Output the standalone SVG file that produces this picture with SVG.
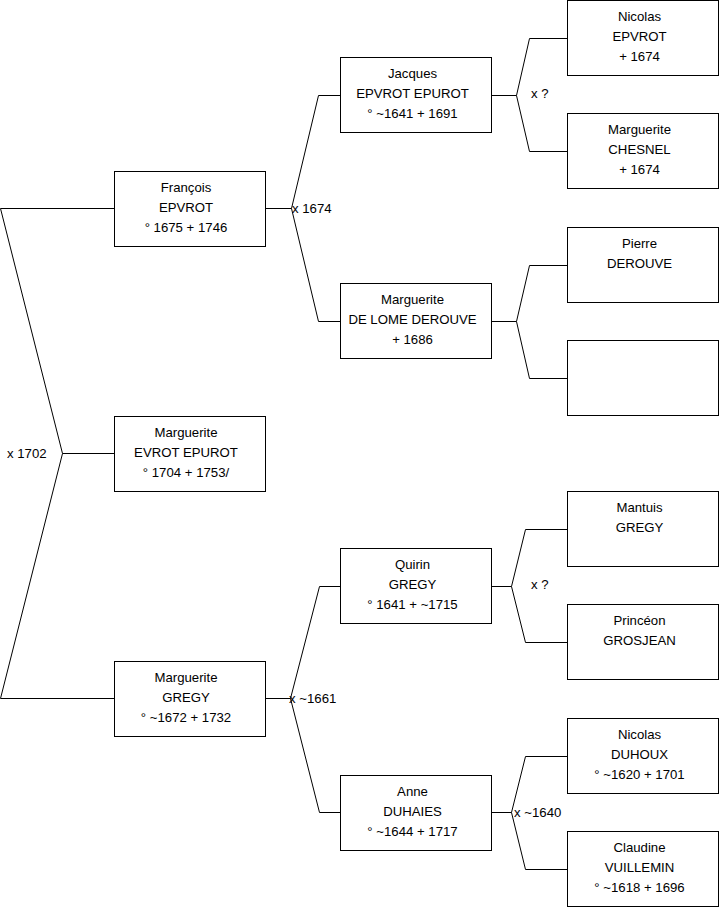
<svg xmlns="http://www.w3.org/2000/svg" width="719" height="908" viewBox="0 0 719 908">
<style>
.box{fill:#fff;stroke:#000;stroke-width:1}
.ln{fill:none;stroke:#000;stroke-width:1}
text{font-family:"Liberation Sans",Arial,sans-serif;font-size:13.2px;fill:#000}
.c{text-anchor:middle}
</style>
<rect width="719" height="908" fill="#fff"/>
<g id="connectors">
<polyline class="ln" points="114.5,208.5 0.5,208.5 62.5,453.5 0.5,698.5 114.5,698.5"/>
<line class="ln" x1="62.5" y1="453.5" x2="114.5" y2="453.5"/>
<polyline class="ln" points="340.5,95.5 318.5,95.5 291.5,208.5 318.5,321.5 340.5,321.5"/>
<line class="ln" x1="265.5" y1="208.5" x2="291.5" y2="208.5"/>
<polyline class="ln" points="567.5,38.5 529.5,38.5 516.5,95.5 529.5,151.5 567.5,151.5"/>
<line class="ln" x1="491.5" y1="95.5" x2="516.5" y2="95.5"/>
<polyline class="ln" points="567.5,265.5 529.5,265.5 516.5,321.5 529.5,378.5 567.5,378.5"/>
<line class="ln" x1="491.5" y1="321.5" x2="516.5" y2="321.5"/>
<polyline class="ln" points="340.5,586.5 319.5,586.5 290.5,698.5 319.5,812.5 340.5,812.5"/>
<line class="ln" x1="265.5" y1="698.5" x2="290.5" y2="698.5"/>
<polyline class="ln" points="567.5,529.5 525.5,529.5 511.5,586.5 525.5,642.5 567.5,642.5"/>
<line class="ln" x1="491.5" y1="586.5" x2="511.5" y2="586.5"/>
<polyline class="ln" points="567.5,756.5 525.5,756.5 511.5,812.5 525.5,869.5 567.5,869.5"/>
<line class="ln" x1="491.5" y1="812.5" x2="511.5" y2="812.5"/>
<text x="7" y="458">x 1702</text>
<text x="292" y="213">x 1674</text>
<text x="531" y="98">x ?</text>
<text x="289" y="703">x ~1661</text>
<text x="531" y="589">x ?</text>
<text x="514" y="817">x ~1640</text>
</g>
<g id="francois"><rect class="box" x="114.5" y="171.5" width="151" height="75"/>
<text class="c" x="186" y="192">François</text><text class="c" x="186" y="212">EPVROT</text><text class="c" x="186" y="232">° 1675 + 1746</text></g>
<g id="marguerite"><rect class="box" x="114.5" y="416.5" width="151" height="75"/>
<text class="c" x="186" y="437">Marguerite</text><text class="c" x="186" y="457">EVROT EPUROT</text><text class="c" x="186" y="477">° 1704 + 1753/</text></g>
<g id="marguerite-gregy"><rect class="box" x="114.5" y="661.5" width="151" height="75"/>
<text class="c" x="186" y="682">Marguerite</text><text class="c" x="186" y="702">GREGY</text><text class="c" x="186" y="722">° ~1672 + 1732</text></g>
<g id="jacques"><rect class="box" x="340.5" y="57.5" width="151" height="75"/>
<text class="c" x="412.5" y="78">Jacques</text><text class="c" x="412.5" y="98">EPVROT EPUROT</text><text class="c" x="412.5" y="118">° ~1641 + 1691</text></g>
<g id="marguerite-delome"><rect class="box" x="340.5" y="283.5" width="151" height="75"/>
<text class="c" x="412.5" y="304">Marguerite</text><text class="c" x="412.5" y="324">DE LOME DEROUVE</text><text class="c" x="412.5" y="344">+ 1686</text></g>
<g id="quirin"><rect class="box" x="340.5" y="548.5" width="151" height="75"/>
<text class="c" x="412.5" y="569">Quirin</text><text class="c" x="412.5" y="589">GREGY</text><text class="c" x="412.5" y="609">° 1641 + ~1715</text></g>
<g id="anne"><rect class="box" x="340.5" y="775.5" width="151" height="75"/>
<text class="c" x="412.5" y="796">Anne</text><text class="c" x="412.5" y="816">DUHAIES</text><text class="c" x="412.5" y="836">° ~1644 + 1717</text></g>
<g id="nicolas-epvrot"><rect class="box" x="567.5" y="0.5" width="151" height="75"/>
<text class="c" x="639.5" y="21">Nicolas</text><text class="c" x="639.5" y="41">EPVROT</text><text class="c" x="639.5" y="61">+ 1674</text></g>
<g id="marguerite-chesnel"><rect class="box" x="567.5" y="113.5" width="151" height="75"/>
<text class="c" x="639.5" y="134">Marguerite</text><text class="c" x="639.5" y="154">CHESNEL</text><text class="c" x="639.5" y="174">+ 1674</text></g>
<g id="pierre"><rect class="box" x="567.5" y="227.5" width="151" height="75"/>
<text class="c" x="639.5" y="248">Pierre</text><text class="c" x="639.5" y="268">DEROUVE</text></g>
<g id="empty"><rect class="box" x="567.5" y="340.5" width="151" height="75"/></g>
<g id="mantuis"><rect class="box" x="567.5" y="491.5" width="151" height="75"/>
<text class="c" x="639.5" y="512">Mantuis</text><text class="c" x="639.5" y="532">GREGY</text></g>
<g id="linceon"><rect class="box" x="567.5" y="604.5" width="151" height="75"/>
<text class="c" x="639.5" y="625">Princéon</text><text class="c" x="639.5" y="645">GROSJEAN</text></g>
<g id="nicolas-duhoux"><rect class="box" x="567.5" y="718.5" width="151" height="75"/>
<text class="c" x="639.5" y="739">Nicolas</text><text class="c" x="639.5" y="759">DUHOUX</text><text class="c" x="639.5" y="779">° ~1620 + 1701</text></g>
<g id="claudine"><rect class="box" x="567.5" y="831.5" width="151" height="75"/>
<text class="c" x="639.5" y="852">Claudine</text><text class="c" x="639.5" y="872">VUILLEMIN</text><text class="c" x="639.5" y="892">° ~1618 + 1696</text></g>
</svg>
